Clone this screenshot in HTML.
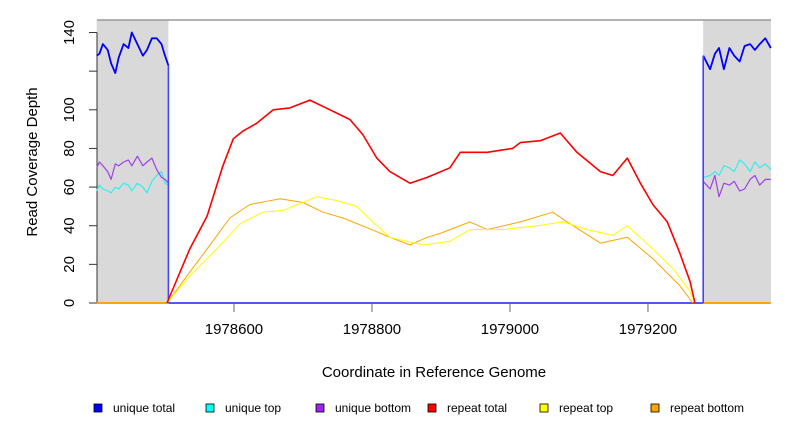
<!DOCTYPE html>
<html><head><meta charset="utf-8"><style>
body{margin:0;background:#fff;}
svg{display:block;font-family:"Liberation Sans",Arial,sans-serif;}
</style></head><body>
<svg id="chart" width="792" height="432" viewBox="0 0 792 432" xmlns="http://www.w3.org/2000/svg">
<g id="bg"></g><g id="axes"></g><g id="series"></g><g id="legend"></g>
</svg>
<script>
// ---- data ----
const xTicks=[1978600,1978800,1979000,1979200];
const yTicks=[0,20,40,60,80,100,120,140];
const yTickLabels=["0","20","40","60","80","100","","140"];
const leftRegion=[1978401,1978505];
const rightRegion=[1979280,1979378];
const totalCoords=[1978503,1978536,1978561,1978584,1978599,1978613,1978633,1978657,1978681,1978710,1978739,1978768,1978787,1978807,1978826,1978855,1978880,1978913,1978928,1978967,1979004,1979015,1979044,1979073,1979097,1979131,1979149,1979170,1979189,1979207,1979228,1979246,1979261,1979268];
const repeatTotal=[0,28,45,71,85,89,93,100,101,105,100,95,87,75,68,62,65,70,78,78,80,83,84,88,78,68,66,75,62,51,42,26,11,0];
const topCoords=[1978503,1978536,1978575,1978609,1978642,1978671,1978700,1978720,1978749,1978778,1978801,1978826,1978874,1978913,1978942,1978990,1979039,1979077,1979112,1979149,1979170,1979207,1979236,1979261,1979268];
const repeatTop=[0,14,28,41,47,48,52,55,53,50,42,34,30,32,38,38,40,42,38,35,40,28,18,6,0];
const bottomCoords=[1978503,1978536,1978561,1978594,1978623,1978667,1978700,1978729,1978758,1978793,1978826,1978855,1978880,1978899,1978942,1978967,1979015,1979062,1979083,1979131,1979170,1979207,1979246,1979265];
const repeatBottom=[0,16,28,44,51,54,52,47,44,39,34,30,34,36,42,38,42,47,42,31,34,23,9,0];
const flankLeftCoords=[1978401,1978405,1978410,1978417,1978422,1978428,1978433,1978440,1978447,1978452,1978460,1978468,1978474,1978481,1978488,1978495,1978500,1978505];
const uniqueTotalLeft=[128,129,134,131,124,119,127,134,132,140,134,128,131,137,137,134,128,123];
const uniqueTopLeft=[58,61,59,58,57,60,59,62,61,58,62,60,57,63,66,68,62,61];
const uniqueBottomLeft=[70,73,71,68,64,72,71,73,74,71,76,71,73,75,69,65,64,62];
const flankRightCoords=[1979280,1979290,1979297,1979303,1979310,1979318,1979325,1979333,1979340,1979348,1979355,1979362,1979370,1979378];
const uniqueTotalRight=[128,121,129,132,121,132,128,125,133,134,131,134,137,132];
const uniqueTopRight=[65,66,68,66,71,70,68,74,72,68,73,70,72,69];
const uniqueBottomRight=[63,59,66,55,62,61,63,58,59,64,66,61,64,64];

// ---- scales ----
const X0=97,X1=771,Y0=303;
const xs=c=>X0+(c-1978401.5)*0.69;
const ys=v=>Y0-v*1.932;
const NS="http://www.w3.org/2000/svg";
function mk(tag,attrs,parent){const e=document.createElementNS(NS,tag);for(const k in attrs)e.setAttribute(k,attrs[k]);parent.appendChild(e);return e;}
const bg=document.getElementById('bg'),axes=document.getElementById('axes'),ser=document.getElementById('series'),leg=document.getElementById('legend');

let r=mk('rect',{x:xs(leftRegion[0]),y:20,width:xs(leftRegion[1])-xs(leftRegion[0]),height:Y0-20,fill:'#d9d9d9'},bg);


r=mk('rect',{x:xs(rightRegion[0]),y:20,width:X1-xs(rightRegion[0]),height:Y0-20,fill:'#d9d9d9'},bg);


let l=mk('line',{x1:X0,y1:20,x2:X1,y2:20,stroke:'#999','stroke-width':1.5},bg);



// y axis
l=mk('line',{x1:X0,y1:ys(0),x2:X0,y2:ys(140),stroke:'#333'},axes);


yTicks.forEach((v,i)=>{
  const t=mk('line',{x1:X0-8,y1:ys(v),x2:X0,y2:ys(v),stroke:'#333'},axes);
  
  
  if(yTickLabels[i]){
    const tx=mk('text',{x:0,y:0,transform:`translate(74,${ys(v)}) rotate(-90)`,'text-anchor':'middle','font-size':15,fill:'#000'},axes);
    tx.textContent=yTickLabels[i];
    
    
  }
});
let tt=mk('text',{x:0,y:0,transform:'translate(37,162) rotate(-90)','text-anchor':'middle','font-size':15},axes);
tt.textContent='Read Coverage Depth';


// x axis
l=mk('line',{x1:xs(xTicks[0]),y1:Y0,x2:xs(xTicks[xTicks.length-1]),y2:Y0,stroke:'#999'},axes);


xTicks.forEach(c=>{
  const t=mk('line',{x1:xs(c),y1:Y0,x2:xs(c),y2:Y0+9,stroke:'#999','stroke-width':1.5},axes);
  
  
  const tx=mk('text',{x:xs(c),y:334,'text-anchor':'middle','font-size':15},axes);
  tx.textContent=String(c);
  
  
});
tt=mk('text',{x:434,y:377,'text-anchor':'middle','font-size':15},axes);
tt.textContent='Coordinate in Reference Genome';



function linePath(cs,vs){return cs.map((c,i)=>(i?'L':'M')+xs(c).toFixed(1)+','+ys(vs[i]).toFixed(1)).join('');}
function line(cs,vs,color,w,name){const p=mk('path',{d:linePath(cs,vs),fill:'none',stroke:color,'stroke-width':w,'stroke-linejoin':'round'},ser);}

// zero baselines
line([leftRegion[0],leftRegion[1]],[0,0],'#ffa500',2,'repeat-bottom-left-zero');
line([rightRegion[0],rightRegion[1]],[0,0],'#ffa500',2,'repeat-bottom-right-zero');
line([leftRegion[1],rightRegion[0]],[0,0],'#5555ff',2,'unique-total-zero');
// flanks
line(flankLeftCoords,uniqueTopLeft,'#33eeee',1.2,'unique-top-left');
line(flankLeftCoords,uniqueBottomLeft,'#a040e0',1.2,'unique-bottom-left');
line(flankLeftCoords,uniqueTotalLeft,'#0000ff',1.8,'unique-total-left');
line(flankRightCoords,uniqueTopRight,'#33eeee',1.2,'unique-top-right');
line(flankRightCoords,uniqueBottomRight,'#a040e0',1.2,'unique-bottom-right');
line(flankRightCoords,uniqueTotalRight,'#0000ff',1.8,'unique-total-right');
// drop lines
line([leftRegion[1],leftRegion[1]],[uniqueTotalLeft[uniqueTotalLeft.length-1],0],'#4444ff',1.6,'unique-total-left-drop');
line([rightRegion[0],rightRegion[0]],[0,uniqueTotalRight[0]],'#4444ff',1.6,'unique-total-right-rise');
// repeats
line(bottomCoords,repeatBottom,'#ffa500',1,'repeat-bottom-line');
line(topCoords,repeatTop,'#ffff00',1,'repeat-top-line');
line(totalCoords,repeatTotal,'#ff0000',1.6,'repeat-total-line');

// legend
const legNames=['unique total','unique top','unique bottom','repeat total','repeat top','repeat bottom'];
const legColors=['#0000ff','#00ffff','#a020f0','#ff0000','#ffff00','#ffa500'];
const legX=[94,206,316,428,540,651];
legNames.forEach((n,i)=>{
  const g=mk('g',{},leg);
  
  
  mk('rect',{x:legX[i],y:404,width:8,height:8,fill:legColors[i],stroke:'#000','stroke-width':0.8},g);
  const t=mk('text',{x:legX[i]+19,y:412,'font-size':12},g);
  t.textContent=n;
});
</script>
</body></html>
